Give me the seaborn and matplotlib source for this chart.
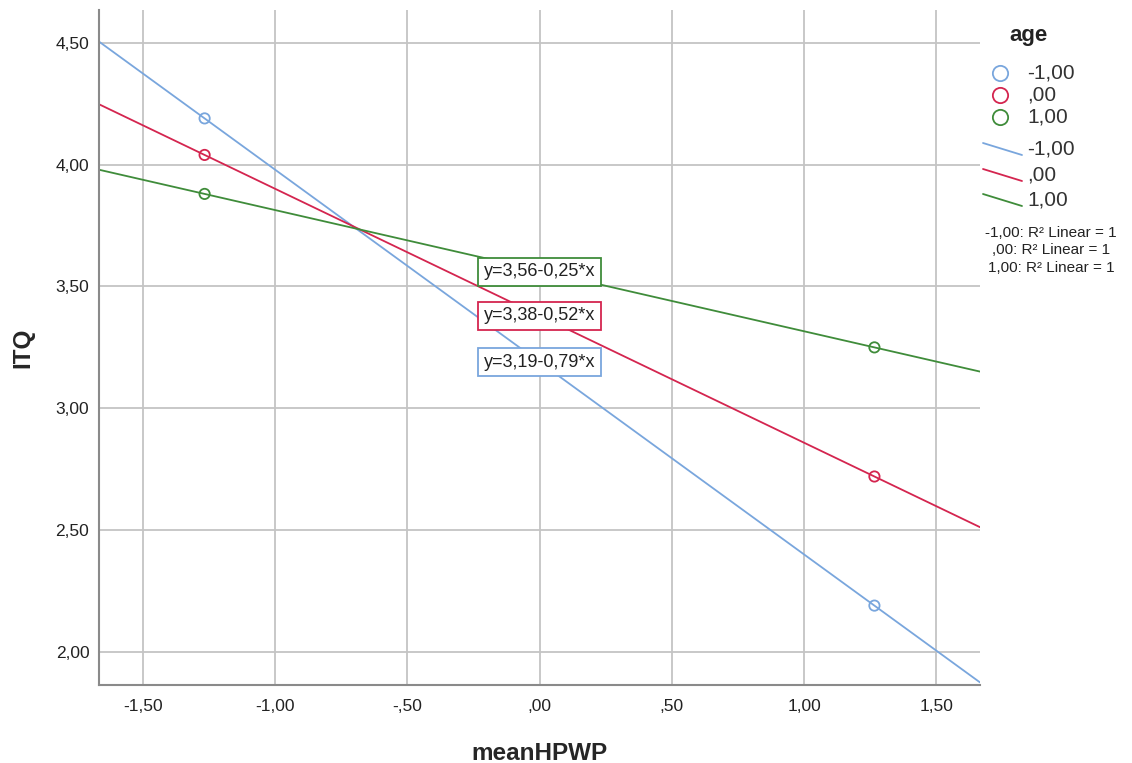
import numpy as np
import pandas as pd
import seaborn as sns
import matplotlib.pyplot as plt
from matplotlib.lines import Line2D
from matplotlib.ticker import FuncFormatter

# values
age_levels = ['-1,00', ',00', '1,00']
hpwp_points = [-1.266, 1.266]
itq_points = {'-1,00': [4.19, 2.19], ',00': [4.04, 2.72], '1,00': [3.88, 3.25]}
equations = ['y=3,19-0,79*x', 'y=3,38-0,52*x', 'y=3,56-0,25*x']
label_y = [3.19, 3.38, 3.56]
colors = ['#79A6DD', '#D4254F', '#3F8C3A']

rows = []
for lev in age_levels:
    for x, y in zip(hpwp_points, itq_points[lev]):
        rows.append({'age': lev, 'meanHPWP': x, 'ITQ': y})
df = pd.DataFrame(rows)


def spss_fmt(v, pos=None):
    s = f"{v:.2f}".replace('.', ',')
    if s.startswith('0,'):
        s = s[1:]
    elif s.startswith('-0,'):
        s = '-' + s[2:]
    return s


W, H = 1132, 763


def fx(px):
    return px / W


def fy(py):
    return 1 - py / H


sns.set_style('white')
plt.rcParams['font.family'] = ['Liberation Sans', 'DejaVu Sans']

fig = plt.figure(figsize=(11.32, 7.63), dpi=100)
ax = fig.add_axes([0.0875, 0.1022, 0.7782, 0.8847])
ax.set_xlim(-1.665, 1.665)
ax.set_ylim(1.864, 4.635)

for lev, c in zip(age_levels, colors):
    sub = df[df['age'] == lev]
    sns.regplot(data=sub, x='meanHPWP', y='ITQ', scatter=False, ci=None,
                truncate=False, ax=ax, line_kws={'color': c, 'lw': 1.3})
    sns.scatterplot(data=sub, x='meanHPWP', y='ITQ', ax=ax, marker='o', s=55,
                    facecolor='none', edgecolor=c, linewidth=1.3, zorder=5)

for eq, yv, c in zip(equations, label_y, colors):
    ax.text(0.0, yv, eq, ha='center', va='center', fontsize=13, zorder=6,
            color='#222222',
            bbox=dict(boxstyle='square,pad=0.3', fc='white', ec=c, lw=1.3))

ax.set_xticks([-1.5, -1.0, -0.5, 0.0, 0.5, 1.0, 1.5])
ax.set_yticks([2.0, 2.5, 3.0, 3.5, 4.0, 4.5])
ax.xaxis.set_major_formatter(FuncFormatter(spss_fmt))
ax.yaxis.set_major_formatter(FuncFormatter(spss_fmt))
ax.grid(True, color='#C4C4C4', lw=1.3)
ax.set_axisbelow(True)
ax.tick_params(axis='x', length=0, labelsize=12.5, colors='#222222', pad=10)
ax.tick_params(axis='y', length=0, labelsize=12.5, colors='#222222', pad=7)
ax.set_xlabel('meanHPWP', fontsize=17.5, fontweight='bold', labelpad=20)
ax.set_ylabel('ITQ', fontsize=17.5, fontweight='bold', labelpad=15)
for side in ['top', 'right']:
    ax.spines[side].set_visible(False)
for side in ['left', 'bottom']:
    ax.spines[side].set_color('#8A8A8A')
    ax.spines[side].set_linewidth(1.5)

# legend, laid out like the SPSS one
fig.text(fx(1029), fy(36), 'age', ha='center', va='center', fontsize=16,
         fontweight='bold', color='#222222')
marker_rows = [73, 95, 117]
line_rows = [149, 175, 200]
for lev, c, ry in zip(age_levels, colors, marker_rows):
    fig.add_artist(Line2D([fx(1000)], [fy(ry)], marker='o', ls='none', mfc='none',
                          mec=c, ms=11, mew=1.3, transform=fig.transFigure))
    fig.text(fx(1027), fy(ry), lev, ha='left', va='center', fontsize=15,
             color='#333333')
for lev, c, ry in zip(age_levels, colors, line_rows):
    fig.add_artist(Line2D([fx(983), fx(1022)], [fy(ry - 6), fy(ry + 6)], color=c,
                          lw=1.3, transform=fig.transFigure))
    fig.text(fx(1027), fy(ry), lev, ha='left', va='center', fontsize=15,
             color='#333333')

r2_lines = ['-1,00: R² Linear = 1', ',00: R² Linear = 1', '1,00: R² Linear = 1']
for i, t in enumerate(r2_lines):
    fig.text(fx(1051), fy(233 + i * 17.5), t, ha='center', va='center',
             fontsize=11, color='#222222')

fig.savefig('out.png', dpi=100)
